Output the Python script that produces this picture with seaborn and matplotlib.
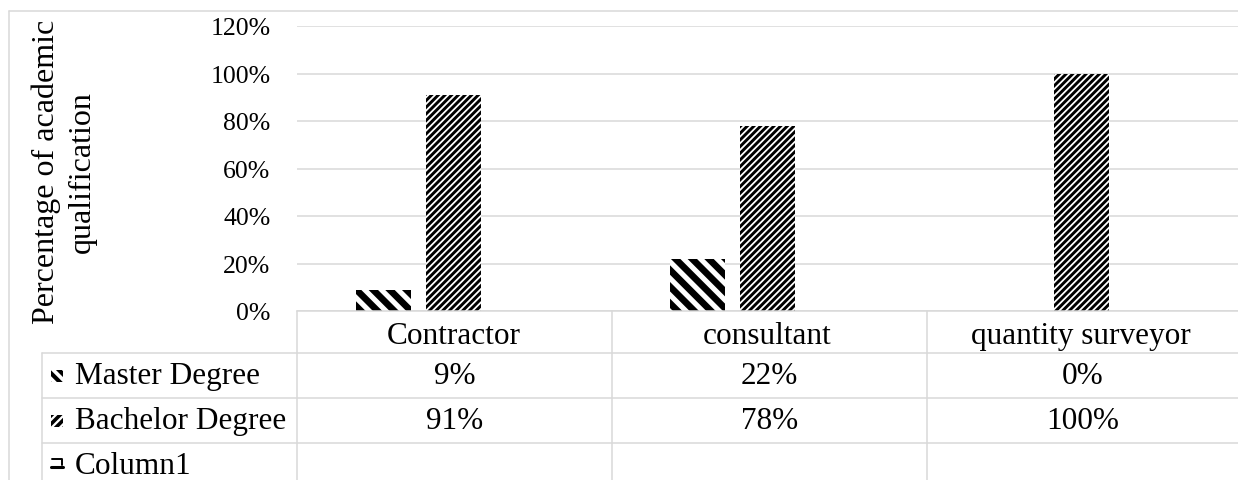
import numpy as np
import pandas as pd
import seaborn as sns
import matplotlib.pyplot as plt
from matplotlib.patches import Rectangle
from matplotlib.lines import Line2D

# ---- data ----
categories = ["Contractor", "consultant", "quantity surveyor"]
series_names = ["Master Degree", "Bachelor Degree", "Column1"]
master = [0.09, 0.22, 0.00]
bachelor = [0.91, 0.78, 1.00]
column1 = [np.nan, np.nan, np.nan]
yticks = [0.0, 0.2, 0.4, 0.6, 0.8, 1.0, 1.2]
ylabel = "Percentage of academic\nqualification"

W, H = 1238, 481

sns.set_theme(style="white")
plt.rcParams['font.family'] = ['Liberation Serif', 'DejaVu Serif']

df = pd.DataFrame({
    "category": categories * 3,
    "series": [s for s in series_names for _ in categories],
    "value": master + bachelor + column1,
})

fig = plt.figure(figsize=(W / 100, H / 100), dpi=100)
fig.patch.set_facecolor("white")


def fx(x):
    return x / W


def fy(y):
    return 1 - y / H


ax_left, ax_right, ax_top, ax_bot = 297, 1238, 27, 312
ax = fig.add_axes([fx(ax_left), fy(ax_bot), fx(ax_right - ax_left), (ax_bot - ax_top) / H])

sns.barplot(data=df, x="category", y="value", hue="series", hue_order=series_names,
            order=categories, width=0.669, gap=0.214, errorbar=None, legend=False,
            palette=["white", "white", "white"], ax=ax)

hatches = {"Master Degree": ("\\\\", 4.8), "Bachelor Degree": ("/////", 2.1), "Column1": ("", 1.0)}
present = [s for s in series_names if s in df.dropna()["series"].unique()]
for cont, name in zip(ax.containers, present):
    h, lw = hatches[name]
    for p in cont.patches:
        p.set_facecolor("white")
        p.set_edgecolor("black")
        p.set_linewidth(0)
        p.set_hatch(h)
        if hasattr(p, "set_hatch_linewidth"):
            p.set_hatch_linewidth(lw)

ax.set_xlim(-0.5, 2.5)
ax.set_ylim(0, 1.2)
ax.set_yticks(yticks)
ax.set_yticklabels([f"{t:.0%}" for t in yticks], fontsize=18.5, color="black")
ax.tick_params(axis="y", length=0, pad=19)
ax.tick_params(axis="x", length=0, pad=7)
ax.set_xticks(range(len(categories)))
ax.set_xticklabels(categories, fontsize=22.5, color="black")
ax.set_xlabel("")
ax.set_ylabel("")
ax.yaxis.grid(True, color="#D9D9D9", linewidth=1.1)
ax.set_axisbelow(True)
for s in ["top", "right", "left"]:
    ax.spines[s].set_visible(False)
ax.spines["bottom"].set_color("#D9D9D9")
ax.spines["bottom"].set_linewidth(1.1)
ax.set_facecolor("none")

# y label
fig.text(fx(64), fy(172), ylabel, rotation=90, ha="center", va="center",
         fontsize=23, linespacing=1.3, color="black")

grid_c = "#D9D9D9"


def hline(x0, x1, y):
    fig.add_artist(Line2D([fx(x0), fx(x1)], [fy(y), fy(y)], color=grid_c, lw=1.1))


def vline(x, y0, y1):
    fig.add_artist(Line2D([fx(x), fx(x)], [fy(y0), fy(y1)], color=grid_c, lw=1.1))


# outer chart border
hline(9, W, 12)
vline(9, 12, H)

# data table
col_edges = [297, 612, 927, 1238]
row_edges = [354, 399, 444, 489]
for y in row_edges[:-1]:
    hline(42, W, y)
vline(42, 354, H)
for x in col_edges[:-1]:
    vline(x, 312, H)

col_centers = [(col_edges[i] + col_edges[i + 1]) / 2 for i in range(3)]
rows = [(series_names[0], master), (series_names[1], bachelor), (series_names[2], column1)]
for r, (name, vals) in enumerate(rows):
    yc = (row_edges[r] + row_edges[r + 1]) / 2 if r < 2 else 466
    fig.text(fx(75), fy(yc), name, ha="left", va="center", fontsize=22.5, color="black")
    for c, v in enumerate(vals):
        if v is None or (isinstance(v, float) and np.isnan(v)):
            continue
        fig.text(fx(col_centers[c]), fy(yc), f"{v:.0%}", ha="center", va="center",
                 fontsize=22.5, color="black")

# legend keys
key_hatches = {"Master Degree": ("\\\\\\", 3.0), "Bachelor Degree": ("////", 2.6)}
for r, name in enumerate(series_names[:2]):
    yc = (row_edges[r] + row_edges[r + 1]) / 2
    h, lw = key_hatches[name]
    key = Rectangle((fx(51), fy(yc + 6)), fx(12), 12 / H, transform=fig.transFigure,
                    facecolor="white", edgecolor="black", linewidth=0, hatch=h)
    if hasattr(key, "set_hatch_linewidth"):
        key.set_hatch_linewidth(lw)
    fig.add_artist(key)

# Column1 key (outline glyph)
fig.add_artist(Line2D([fx(52), fx(62), fx(62)], [fy(460), fy(460), fy(466)], color="black", lw=1.4))
fig.add_artist(Line2D([fx(51), fx(63)], [fy(468), fy(468)], color="black", lw=2.2))

fig.savefig("out.png", dpi=100, facecolor="white")
